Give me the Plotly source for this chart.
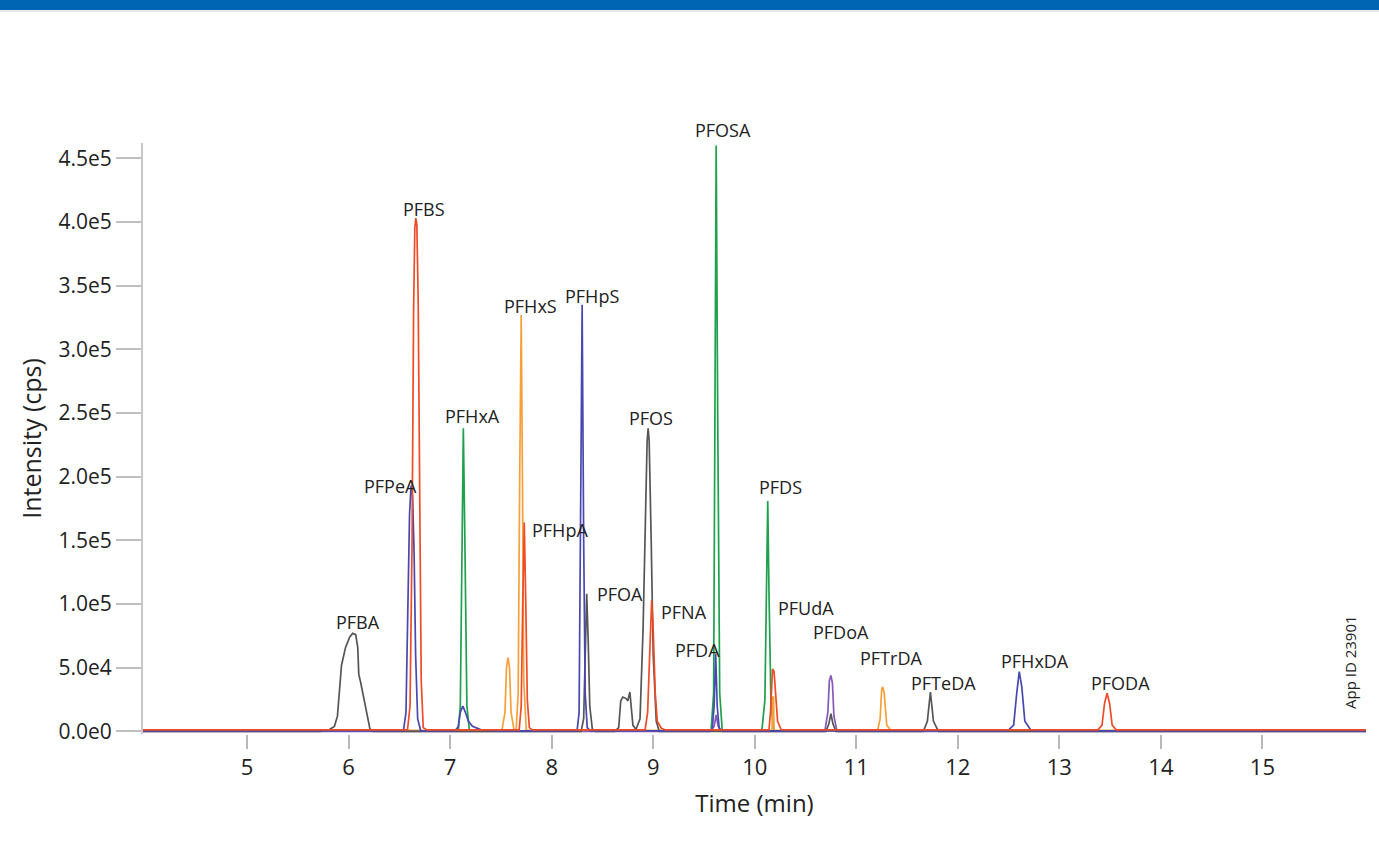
import plotly.graph_objects as go

# ---------------- data ----------------
gray_t = [3.97, 5.72, 5.80, 5.86, 5.89, 5.91, 5.93, 5.97, 6.01, 6.04, 6.07, 6.09, 6.10, 6.12, 6.14, 6.17, 6.21, 6.24,
          8.29, 8.315, 8.33, 8.345, 8.36, 8.375, 8.40, 8.43,
          8.62, 8.66, 8.68, 8.70, 8.73, 8.75, 8.77, 8.78, 8.80, 8.83,
          8.87, 8.90, 8.92, 8.94, 8.95, 8.96, 8.98, 9.00, 9.03, 9.06,
          10.70, 10.73, 10.75, 10.77, 10.80,
          11.66, 11.70, 11.73, 11.76, 11.81, 16.02]
gray_y = [0, 0, 1000, 4000, 12000, 35000, 52000, 66000, 74000, 77000, 76000, 66000, 45000, 38000, 30000, 16000, 2000, 0,
          0, 10000, 60000, 108000, 70000, 20000, 2000, 0,
          0, 3000, 24000, 27000, 26000, 24000, 31000, 24000, 5000, 1500,
          10000, 80000, 170000, 228000, 238000, 228000, 150000, 60000, 8000, 0,
          0, 6000, 14000, 6000, 0,
          0, 8000, 31000, 8000, 0, 0]

red_t = [3.97, 6.58, 6.605, 6.625, 6.64, 6.652, 6.662, 6.672, 6.685, 6.70, 6.715, 6.735, 6.77,
         7.68, 7.70, 7.715, 7.73, 7.745, 7.76, 7.78, 7.81,
         8.92, 8.945, 8.965, 8.985, 9.00, 9.02, 9.04, 9.08, 9.12,
         10.14, 10.155, 10.165, 10.175, 10.19, 10.205, 10.225, 10.26, 10.30,
         13.38, 13.42, 13.445, 13.47, 13.495, 13.52, 13.56, 16.02]
red_y = [1200, 1200, 20000, 150000, 330000, 395000, 403000, 398000, 340000, 180000, 40000, 3000, 1200,
         1200, 20000, 100000, 164000, 100000, 25000, 3000, 1200,
         1200, 15000, 60000, 103000, 80000, 30000, 8000, 2500, 1200,
         1200, 15000, 42000, 49000, 47000, 30000, 8000, 1500, 1200,
         1200, 5000, 22000, 30000, 22000, 5000, 1200, 1200]

blue_t = [3.97, 6.54, 6.565, 6.585, 6.60, 6.615, 6.63, 6.645, 6.66, 6.68, 6.71,
          7.05, 7.08, 7.10, 7.125, 7.15, 7.18, 7.22, 7.30, 7.45,
          8.25, 8.27, 8.285, 8.30, 8.315, 8.33, 8.35, 8.38,
          9.58, 9.60, 9.615, 9.63, 9.65, 9.68,
          12.49, 12.55, 12.58, 12.605, 12.63, 12.66, 12.72, 12.76, 16.02]
blue_y = [500, 500, 15000, 100000, 170000, 193000, 185000, 140000, 60000, 10000, 500,
          500, 4000, 15000, 20000, 15000, 8000, 4000, 1500, 500,
          500, 15000, 150000, 335000, 150000, 30000, 3000, 500,
          500, 20000, 61000, 20000, 2000, 500,
          500, 5000, 30000, 47000, 35000, 8000, 1000, 500, 500]

purple_t = [3.97, 9.56, 9.60, 9.62, 9.64, 9.68,
            10.69, 10.72, 10.735, 10.75, 10.765, 10.78, 10.81, 16.02]
purple_y = [0, 0, 4000, 13000, 4000, 0,
            0, 15000, 40000, 44000, 38000, 12000, 0, 0]

green_t = [3.97, 7.08, 7.10, 7.12, 7.13, 7.145, 7.165, 7.19,
           9.57, 9.595, 9.61, 9.62, 9.635, 9.655, 9.68,
           10.07, 10.10, 10.115, 10.128, 10.14, 10.16, 10.19, 16.02]
green_y = [500, 500, 20000, 150000, 238000, 150000, 20000, 500,
           500, 30000, 250000, 460000, 250000, 30000, 500,
           500, 25000, 110000, 181000, 110000, 20000, 500, 500]

orange_t = [3.97, 7.51, 7.54, 7.555, 7.57, 7.585, 7.60, 7.63,
            7.65, 7.67, 7.685, 7.70, 7.712, 7.725, 7.75,
            10.17, 10.175, 10.185, 10.19,
            11.21, 11.235, 11.25, 11.26, 11.275, 11.30, 11.34, 16.02]
orange_y = [800, 800, 15000, 50000, 58000, 50000, 15000, 800,
            800, 30000, 200000, 327000, 200000, 40000, 800,
            800, 27000, 27000, 800,
            800, 10000, 33000, 35000, 30000, 5000, 800, 800]

peak_names = ["PFBA", "PFPeA", "PFBS", "PFHxA", "PFHxS", "PFHpS", "PFHpA", "PFOS", "PFOA", "PFNA",
              "PFDA", "PFOSA", "PFDS", "PFUdA", "PFDoA", "PFTrDA", "PFTeDA", "PFHxDA", "PFODA"]
label_t = [6.09, 6.41, 6.74, 7.22, 7.79, 8.40, 8.08, 8.98, 8.67, 9.30,
           9.44, 9.69, 10.25, 10.50, 10.85, 11.34, 11.86, 12.76, 13.60]
label_y = [86000, 193000, 410000, 248000, 334000, 342000, 158000, 246000, 108000, 94000,
           64000, 472000, 192000, 97000, 78000, 58000, 38000, 55000, 38000]

x_ticks = [5, 6, 7, 8, 9, 10, 11, 12, 13, 14, 15]
y_tick_vals = [0, 50000, 100000, 150000, 200000, 250000, 300000, 350000, 400000, 450000]
y_tick_text = ["0.0e0", "5.0e4", "1.0e5", "1.5e5", "2.0e5", "2.5e5", "3.0e5", "3.5e5", "4.0e5", "4.5e5"]

# ---------------- figure ----------------
W, H = 1379, 856
ML, MR, MT, MB = 143, 13, 143, 122
PW, PH = W - ML - MR, H - MT - MB
Y_MIN, Y_MAX = -2000, 462000

def px_to_paper_x(px):
    return (px - ML) / PW

def py_to_paper_y(py):
    return (H - MB - py) / PH

def data_y_to_paper(v):
    return (v - Y_MIN) / (Y_MAX - Y_MIN)

FONT = "Open Sans"
fig = go.Figure()

series = [
    (green_t, green_y, "#1ea04c"),
    (orange_t, orange_y, "#f6a03a"),
    (purple_t, purple_y, "#8559b8"),
    (gray_t, gray_y, "#555555"),
    (blue_t, blue_y, "#4848b0"),
    (red_t, red_y, "#ee4c27"),
]
for t, y, c in series:
    fig.add_trace(go.Scatter(x=t, y=y, mode="lines", line=dict(color=c, width=1.7),
                             showlegend=False, hoverinfo="skip"))

annotations = []
for n, tx, ty in zip(peak_names, label_t, label_y):
    annotations.append(dict(x=tx, xref="x", y=data_y_to_paper(ty), yref="paper", text=n, showarrow=False,
                            xanchor="center", yanchor="middle",
                            font=dict(family=FONT, size=18, color="#222222")))
annotations.append(dict(xref="paper", yref="paper", x=px_to_paper_x(1350), y=py_to_paper_y(662),
                        text="App ID 23901", textangle=-90, showarrow=False,
                        xanchor="center", yanchor="middle",
                        font=dict(family=FONT, size=15, color="#222222")))

shapes = [
    dict(type="rect", xref="paper", yref="paper",
         x0=px_to_paper_x(0), x1=px_to_paper_x(W), y0=py_to_paper_y(10), y1=py_to_paper_y(-2),
         fillcolor="#0066b3", line=dict(width=0), layer="above"),
    dict(type="line", xref="paper", yref="paper",
         x0=px_to_paper_x(0), x1=px_to_paper_x(W), y0=py_to_paper_y(11), y1=py_to_paper_y(11),
         line=dict(color="#c9d6e6", width=1)),
]

fig.update_layout(
    width=W, height=H,
    margin=dict(l=ML, r=MR, t=MT, b=MB),
    paper_bgcolor="white", plot_bgcolor="white",
    font=dict(family=FONT, color="#222222"),
    annotations=annotations, shapes=shapes,
    xaxis=dict(range=[3.975, 16.02], tickvals=x_ticks, ticks="outside", ticklen=14, tickwidth=2,
               tickcolor="#b8b8b8", showline=False, showgrid=False, zeroline=False,
               tickfont=dict(family=FONT, size=22, color="#222222"),
               title=dict(text="Time (min)", font=dict(family=FONT, size=24, color="#222222"), standoff=14)),
    yaxis=dict(range=[Y_MIN, Y_MAX], tickvals=y_tick_vals, ticktext=y_tick_text, ticks="outside",
               ticklen=25, tickwidth=2, tickcolor="#c0c0c0", showline=True, linecolor="#c8c8c8",
               linewidth=2, showgrid=False, zeroline=False,
               tickfont=dict(family=FONT, size=21, color="#222222"),
               title=dict(text="Intensity (cps)", font=dict(family=FONT, size=25, color="#222222"), standoff=10)),
)

fig.write_html("out.html")
